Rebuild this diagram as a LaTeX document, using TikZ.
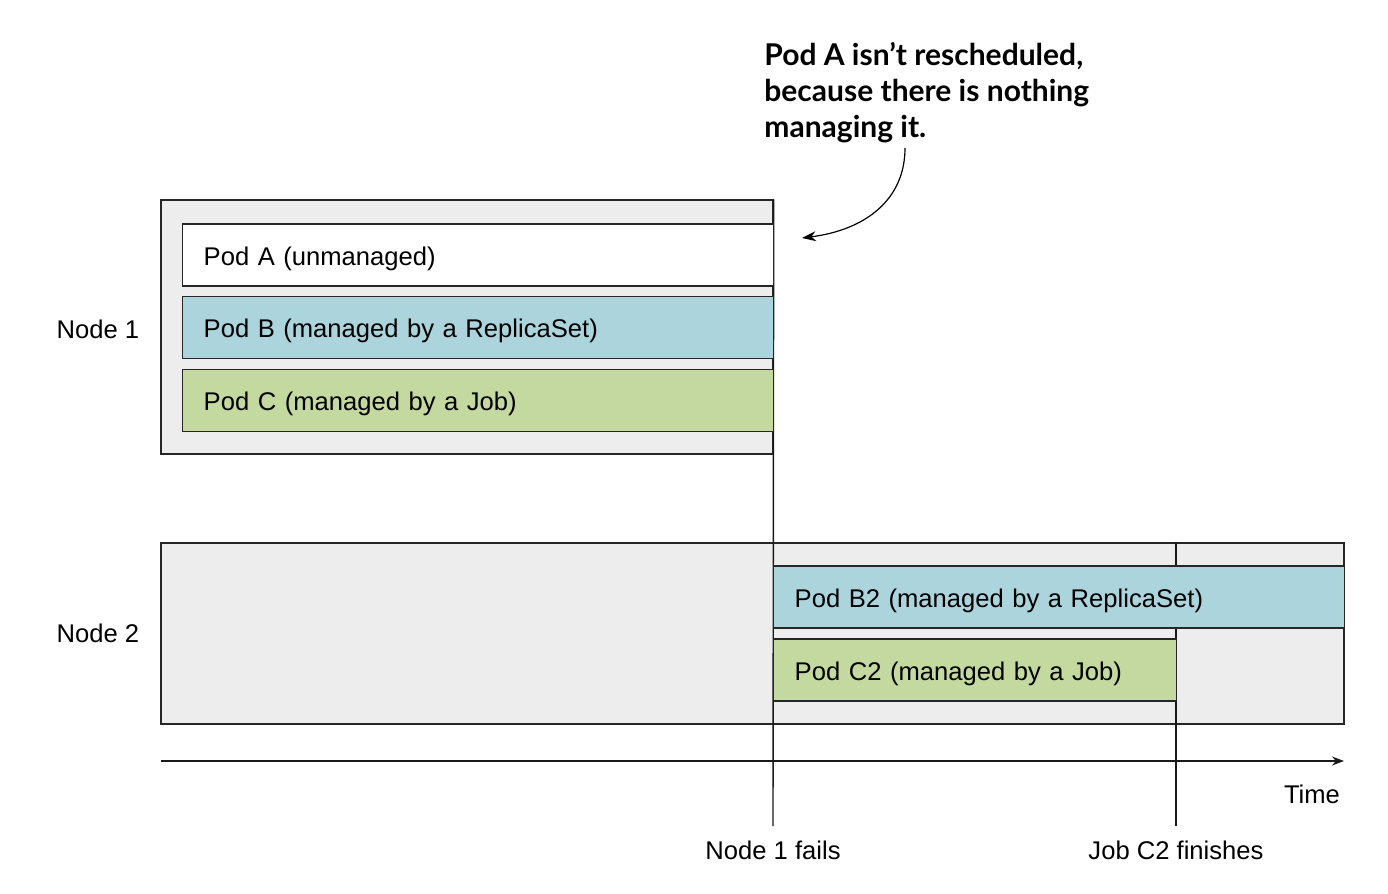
\documentclass[tikz,border=0pt]{standalone}
\usepackage{fontspec}
\setmainfont{Liberation Sans}
\newfontfamily\notefont{Lato}
\usetikzlibrary{arrows.meta,positioning}

\definecolor{nodegray}{HTML}{EDEDED}
\definecolor{podblue}{HTML}{ACD4DC}
\definecolor{podgreen}{HTML}{C3D9A0}

\tikzset{
  nodebox/.style={draw=black!85, fill=nodegray, line width=0.7pt, inner sep=0pt},
  podbox/.style={draw=black!85, line width=0.7pt, anchor=west, minimum height=31pt,
                 inner xsep=10.5pt, inner ysep=0pt, align=left,
                 text height=12pt, text depth=2pt},
  timeline/.style={line width=0.7pt, black!90},
}

\begin{document}
\begin{tikzpicture}[x=0.5pt,y=-0.5pt,font=\fontsize{12.8}{15.4}\selectfont]
      \useasboundingbox (0,0) rectangle (1388,894);

      % the two machines
      \node[nodebox, minimum width=306pt, minimum height=127pt] (n1) at (467,327) {};
      \node[nodebox, minimum width=591.5pt, minimum height=90.5pt] (n2) at (752.5,633.5) {};

      \node[left=7pt of n1, yshift=-1pt] (n1lbl) {Node 1};
      \node[left=7pt of n2] (n2lbl) {Node 2};

      % events
      \coordinate (failend) at (773,826);
      \coordinate (jobend) at (1176,826);
      \draw[timeline] (n1.north east) -- (failend);
      \draw[timeline] (n2.north -| jobend) -- (jobend);
      \node[below=4pt of failend] (faillbl) {Node 1 fails};
      \node[below=4pt of jobend] (joblbl) {Job C2 finishes};

      % pods on node 1
      \node[podbox, fill=white, text width=274.5pt] (poda) at (182,255) {Pod A (unmanaged)};
      \node[podbox, fill=podblue, text width=274.5pt] (podb) at (182,327.5) {Pod B (managed by a ReplicaSet)};
      \node[podbox, fill=podgreen, text width=274.5pt] (podc) at (182,400.5) {Pod C (managed by a Job)};

      % pods on node 2
      \node[podbox, fill=podblue, text width=264.5pt] (podbtwo) at (773,597) {Pod B2 (managed by a ReplicaSet)};
      \node[podbox, fill=podgreen, text width=180.5pt] (podctwo) at (773,670) {Pod C2 (managed by a Job)};

      % time axis
      \coordinate (tstart) at (161,761);
      \coordinate (tend) at (1344,761);
      \draw[timeline,-{Stealth[length=6pt,width=4.5pt]}] (tstart) -- (tend);
      \node[anchor=east] (timelbl) at (1347,794) {Time};

      % note
      \node[anchor=north west, align=left, inner sep=0pt,
            font=\notefont\bfseries\fontsize{15}{18}\selectfont] (note) at (764,42)
           {Pod A isn’t rescheduled,\\because there is nothing\\managing it.};
      \coordinate (notearrow) at (905,148);
      \coordinate (notetip) at (802,238);
      \draw[line width=0.6pt,-{Stealth[length=7pt,width=5pt]}]
           (notearrow) .. controls (905,200) and (865,230) .. (notetip);
\end{tikzpicture}
\end{document}
